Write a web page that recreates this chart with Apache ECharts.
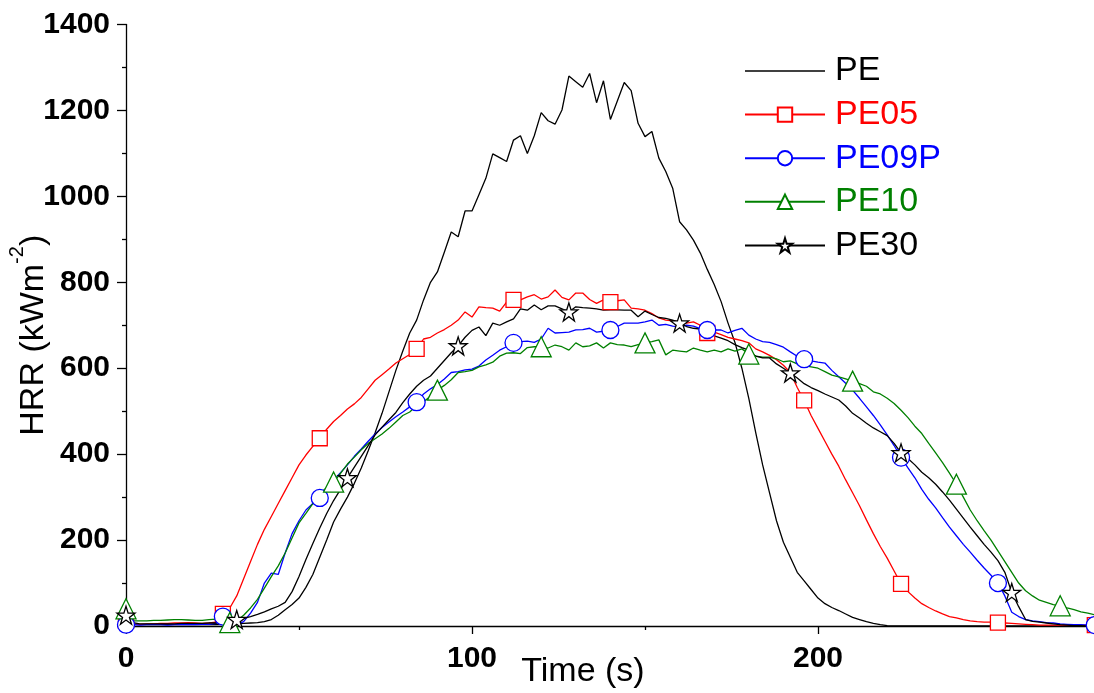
<!DOCTYPE html>
<html>
<head>
<meta charset="utf-8">
<script src="https://cdn.jsdelivr.net/npm/echarts@6/dist/echarts.min.js"></script>
<style>html,body{margin:0;padding:0;background:#fff}#c{width:1094px;height:693px}</style>
</head>
<body>
<div id="c"></div>
<script>
// Time (s)
const time = [0,2,4,6,8,10,12,14,16,18,20,22,24,26,28,30,32,34,36,38,40,42,44,46,48,50,52,54,56,58,60,62,64,66,68,70,72,74,76,78,80,82,84,86,88,90,92,94,96,98,100,102,104,106,108,110,112,114,116,118,120,122,124,126,128,130,132,134,136,138,140,142,144,146,148,150,152,154,156,158,160,162,164,166,168,170,172,174,176,178,180,182,184,186,188,190,192,194,196,198,200,202,204,206,208,210,212,214,216,218,220,222,224,226,228,230,232,234,236,238,240,242,244,246,248,250,252,254,256,258,260,262,264,266,268,270,272,274,276,278,280];

// HRR (kW/m2) per sample
const PE = [
  5,4,3,3,3,3,3,3,3,3,
  3,3,3,3,4,5,5,6,7,8,
  10,15,25,38,50,65,90,120,160,200,
  242,272,300,332,368,408,450,495,545,595,
  640,682,712,759,800,824,870,917,906,966,
  966,1004,1042,1099,1090,1081,1131,1141,1100,1141,
  1195,1176,1168,1201,1280,1267,1254,1286,1218,1269,
  1179,1222,1265,1246,1170,1139,1151,1089,1058,1019,
  941,922,898,868,830,795,755,705,660,600,
  530,450,375,310,245,195,160,125,105,85,
  65,52,43,36,28,20,15,10,6,3,
  1,0,0,0,0,0,0,0,0,0,
  0,0,0,0,0,0,0,0,0,0,
  0,0,0,0,0,0,0,0,0,0,
  0];

const PE05 = [
  12,5,4,5,5,6,6,7,7,8,
  7,6,7,9,28,42,70,110,150,190,
  225,255,285,315,345,375,398,418,437,458,
  476,490,505,517,532,552,572,585,598,612,
  622,632,645,668,672,682,690,700,712,731,
  719,743,741,740,733,754,759,759,766,771,
  761,766,782,765,759,775,775,760,751,759,
  754,757,759,740,738,735,727,717,712,710,
  708,705,708,700,682,684,678,672,668,664,
  659,645,638,630,620,607,590,555,525,490,
  460,430,400,372,340,310,280,247,215,185,
  158,128,98,80,65,52,43,35,28,22,
  19,15,12,10,9,9,8,7,6,5,
  4,3,2,2,2,2,2,2,2,2,
  2];

const PE09P = [
  3,3,2,3,3,3,2,3,3,4,
  3,4,4,6,22,6,3,10,30,55,
  100,123,120,170,215,245,270,285,298,320,
  340,357,375,395,412,430,447,462,475,487,
  498,510,521,540,552,562,575,590,592,596,
  598,605,619,630,642,650,659,662,663,660,
  668,693,682,683,684,689,690,693,684,686,
  689,697,705,705,705,708,712,700,702,698,
  696,700,698,692,689,689,689,682,688,693,
  677,668,662,660,655,649,638,628,621,617,
  614,612,595,580,565,549,530,510,490,468,
  445,420,392,368,345,318,295,275,252,230,
  210,190,172,153,135,118,100,70,32,22,
  15,12,10,8,7,5,4,3,3,2,
  2];

const PE10 = [
  40,12,12,12,13,13,14,15,15,14,
  13,13,15,16,15,8,12,25,42,62,
  88,115,140,170,205,240,262,285,309,322,
  335,355,377,393,410,425,436,447,460,475,
  490,498,513,522,535,549,560,573,590,592,
  595,603,608,614,628,635,636,634,648,650,
  650,647,654,650,642,659,650,652,659,647,
  659,655,654,650,655,659,662,666,631,642,
  640,638,647,642,638,642,638,645,640,645,
  633,628,626,626,622,615,617,610,606,603,
  600,592,584,580,575,570,564,558,545,540,
  530,518,502,485,465,448,425,403,380,356,
  330,300,270,245,222,200,175,150,125,100,
  82,70,60,55,50,47,42,38,33,30,
  26];

const PE30 = [
  25,8,5,5,5,5,5,5,6,6,
  6,6,7,7,9,12,15,18,22,27,
  33,40,46,55,80,115,155,192,228,262,
  292,318,345,370,395,420,445,463,480,497,
  520,540,558,572,582,600,618,636,652,672,
  688,696,676,705,700,708,715,738,735,747,
  736,745,745,738,731,743,741,740,738,735,
  736,736,735,735,720,733,725,718,716,712,
  705,697,693,691,689,675,670,664,655,648,
  642,628,624,624,610,600,589,577,564,555,
  548,540,533,526,512,495,484,472,461,452,
  443,425,403,390,375,358,345,330,312,293,
  272,251,230,210,190,172,152,125,78,45,
  15,11,9,7,5,3,2,1,1,0,
  0];

const seriesNames = ['PE', 'PE05', 'PE09P', 'PE10', 'PE30'];
const xTicks = [0, 100, 200];
const yTicks = [0, 200, 400, 600, 800, 1000, 1200, 1400];

const FONT = '"Liberation Sans", Arial, Helvetica, sans-serif';
const STAR = 'path://M50,2 L61.2,36.5 L97.6,36.5 L68.2,57.9 L79.4,92.5 L50,71.1 L20.6,92.5 L31.8,57.9 L2.4,36.5 L38.8,36.5 Z';

function mk(name, vals, color, symbol, size, every) {
  return {
    name: name,
    type: 'line',
    data: time.map((t, i) => [t, vals[i]]),
    symbol: symbol,
    showAllSymbol: true,
    symbolSize: (v, p) => (every && p.dataIndex % every === 0 ? size : 0),
    lineStyle: { color: color, width: 1.3 },
    itemStyle: { color: symbol === 'none' ? color : '#fff', borderColor: color, borderWidth: 1.3 },
    emphasis: { disabled: true },
    clip: true,
    silent: true,
    animation: false
  };
}

const chart = echarts.init(document.getElementById('c'), null, { renderer: 'canvas' });
chart.setOption({
  animation: false,
  backgroundColor: '#fff',
  textStyle: { fontFamily: FONT },
  grid: { left: 126, top: 24.5, bottom: 67, right: -70, containLabel: false, outerBoundsMode: 'none' },
  legend: {
    orient: 'vertical', left: 744, top: 54, padding: 0,
    itemWidth: 80, itemHeight: 18, itemGap: 9.6,
    selectedMode: false,
    textStyle: { fontFamily: FONT, fontSize: 34, lineHeight: 34, padding: [0, 0, 0, 5] },
    data: [
      { name: seriesNames[0], icon: 'path://M0,0H80V1.3H0Z', itemStyle: { color: '#000', borderWidth: 0 }, textStyle: { color: '#000' } },
      { name: seriesNames[1], textStyle: { color: '#ff0000' } },
      { name: seriesNames[2], textStyle: { color: '#0000ff' } },
      { name: seriesNames[3], textStyle: { color: '#008000' } },
      { name: seriesNames[4], textStyle: { color: '#000' } }
    ]
  },
  xAxis: {
    type: 'value', min: 0, max: 300, interval: 100,
    axisLine: { show: true, lineStyle: { color: '#000', width: 1.3 } },
    axisTick: { show: true, length: 8, lineStyle: { color: '#000', width: 1.3 } },
    minorTick: { show: true, splitNumber: 2, length: 4, lineStyle: { color: '#000', width: 1.3 } },
    splitLine: { show: false },
    axisLabel: {
      fontFamily: FONT, fontSize: 30, fontWeight: 'bold', color: '#000', margin: 18,
      formatter: v => (xTicks.indexOf(v) >= 0 ? String(v) : '')
    },
    name: 'Time (s)', nameLocation: 'middle', nameGap: 29, nameMoveOverlap: false,
    nameTextStyle: { fontFamily: FONT, fontSize: 34, color: '#000', padding: [0, 124, 0, 0] }
  },
  yAxis: {
    type: 'value', min: 0, max: 1400, interval: 200,
    axisLine: { show: true, lineStyle: { color: '#000', width: 1.3 } },
    axisTick: { show: true, length: 9, lineStyle: { color: '#000', width: 1.3 } },
    minorTick: { show: true, splitNumber: 2, length: 4, lineStyle: { color: '#000', width: 1.3 } },
    splitLine: { show: false },
    axisLabel: {
      fontFamily: FONT, fontSize: 30, fontWeight: 'bold', color: '#000', margin: 16,
      formatter: v => (yTicks.indexOf(v) >= 0 ? String(v) : '')
    },
    name: '{a|HRR (kWm}{b|-2}{a|)}', nameLocation: 'middle', nameGap: 75, nameRotate: 90, nameMoveOverlap: false,
    nameTextStyle: {
      fontFamily: FONT, color: '#000', padding: [0, 20, 0, 0],
      rich: {
        a: { fontFamily: FONT, fontSize: 34, lineHeight: 44, color: '#000', verticalAlign: 'bottom' },
        b: { fontFamily: FONT, fontSize: 20, lineHeight: 20, color: '#000', verticalAlign: 'top' }
      }
    }
  },
  series: [
    mk(seriesNames[0], PE, '#000000', 'none', 0, 0),
    mk(seriesNames[1], PE05, '#ff0000', 'rect', 15, 14),
    mk(seriesNames[2], PE09P, '#0000ff', 'circle', 17, 14),
    mk(seriesNames[3], PE10, '#008000', 'triangle', 20, 15),
    mk(seriesNames[4], PE30, '#000000', STAR, 18, 16)
  ]
});
</script>
</body>
</html>
